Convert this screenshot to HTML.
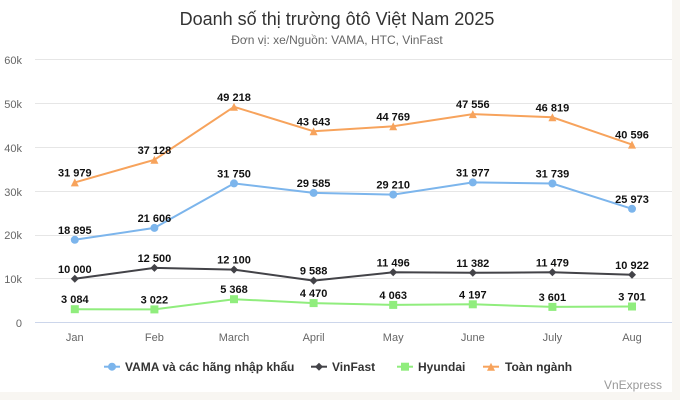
<!DOCTYPE html>
<html><head><meta charset="utf-8"><style>
html,body{margin:0;padding:0;background:#f8f6f2;}
svg{display:block;font-family:"Liberation Sans",Arial,sans-serif;}
.dl{font-size:11px;font-weight:bold;fill:#111;text-anchor:middle;}
.ax{font-size:11px;fill:#666;}
.lg{font-size:12px;font-weight:bold;fill:#333;}
</style></head><body>
<svg width="680" height="400" viewBox="0 0 680 400" xmlns="http://www.w3.org/2000/svg">
<rect x="0" y="0" width="680" height="400" fill="#f8f6f2"/>
<rect x="0" y="0" width="672" height="392" fill="#ffffff"/>
<text x="337" y="25" text-anchor="middle" font-size="18" fill="#333">Doanh số thị trường ôtô Việt Nam 2025</text>
<text x="337" y="44" text-anchor="middle" font-size="12" fill="#666">Đơn vị: xe/Nguồn: VAMA, HTC, VinFast</text>
<g stroke="#e6e6e6" stroke-width="1">
<line x1="35" x2="672" y1="59.5" y2="59.5"/>
<line x1="35" x2="672" y1="103.5" y2="103.5"/>
<line x1="35" x2="672" y1="147.5" y2="147.5"/>
<line x1="35" x2="672" y1="191.5" y2="191.5"/>
<line x1="35" x2="672" y1="235.5" y2="235.5"/>
<line x1="35" x2="672" y1="278.5" y2="278.5"/>
</g>
<line x1="35" x2="672" y1="322.5" y2="322.5" stroke="#ccd6eb" stroke-width="1"/>
<g class="ax" text-anchor="end">
<text x="22" y="64">60k</text>
<text x="22" y="108">50k</text>
<text x="22" y="152">40k</text>
<text x="22" y="196">30k</text>
<text x="22" y="239">20k</text>
<text x="22" y="283">10k</text>
<text x="22" y="327">0</text>
</g>
<g class="ax" text-anchor="middle">
<text x="74.8" y="341">Jan</text>
<text x="154.4" y="341">Feb</text>
<text x="234" y="341">March</text>
<text x="313.6" y="341">April</text>
<text x="393.2" y="341">May</text>
<text x="472.8" y="341">June</text>
<text x="552.4" y="341">July</text>
<text x="632" y="341">Aug</text>
</g>
<!-- Toàn ngành -->
<polyline fill="none" stroke="#f7a35c" stroke-width="2" points="74.8,182.4 154.4,159.8 234,106.8 313.6,131.3 393.2,126.3 472.8,114.1 552.4,117.3 632,144.6"/>
<g fill="#f7a35c">
<path d="M74.8,178.4 L78.8,186.4 L70.8,186.4Z"/>
<path d="M154.4,155.8 L158.4,163.8 L150.4,163.8Z"/>
<path d="M234,102.8 L238,110.8 L230,110.8Z"/>
<path d="M313.6,127.3 L317.6,135.3 L309.6,135.3Z"/>
<path d="M393.2,122.3 L397.2,130.3 L389.2,130.3Z"/>
<path d="M472.8,110.1 L476.8,118.1 L468.8,118.1Z"/>
<path d="M552.4,113.3 L556.4,121.3 L548.4,121.3Z"/>
<path d="M632,140.6 L636,148.6 L628,148.6Z"/>
</g>
<!-- VAMA -->
<polyline fill="none" stroke="#7cb5ec" stroke-width="2" points="74.8,239.8 154.4,227.9 234,183.4 313.6,192.9 393.2,194.6 472.8,182.4 552.4,183.5 632,208.8"/>
<g fill="#7cb5ec">
<circle cx="74.8" cy="239.8" r="4"/><circle cx="154.4" cy="227.9" r="4"/><circle cx="234" cy="183.4" r="4"/><circle cx="313.6" cy="192.9" r="4"/><circle cx="393.2" cy="194.6" r="4"/><circle cx="472.8" cy="182.4" r="4"/><circle cx="552.4" cy="183.5" r="4"/><circle cx="632" cy="208.8" r="4"/>
</g>
<!-- VinFast -->
<polyline fill="none" stroke="#434348" stroke-width="2" points="74.8,278.8 154.4,267.9 234,269.6 313.6,280.6 393.2,272.3 472.8,272.8 552.4,272.3 632,274.8"/>
<g fill="#434348">
<path d="M74.8,274.8 L78.8,278.8 L74.8,282.8 L70.8,278.8Z"/>
<path d="M154.4,263.9 L158.4,267.9 L154.4,271.9 L150.4,267.9Z"/>
<path d="M234,265.6 L238,269.6 L234,273.6 L230,269.6Z"/>
<path d="M313.6,276.6 L317.6,280.6 L313.6,284.6 L309.6,280.6Z"/>
<path d="M393.2,268.3 L397.2,272.3 L393.2,276.3 L389.2,272.3Z"/>
<path d="M472.8,268.8 L476.8,272.8 L472.8,276.8 L468.8,272.8Z"/>
<path d="M552.4,268.3 L556.4,272.3 L552.4,276.3 L548.4,272.3Z"/>
<path d="M632,270.8 L636,274.8 L632,278.8 L628,274.8Z"/>
</g>
<!-- Hyundai -->
<polyline fill="none" stroke="#90ed7d" stroke-width="2" points="74.8,309.2 154.4,309.4 234,299.2 313.6,303.1 393.2,304.9 472.8,304.3 552.4,306.9 632,306.5"/>
<g fill="#90ed7d">
<rect x="70.8" y="305.2" width="8" height="8"/><rect x="150.4" y="305.4" width="8" height="8"/><rect x="230" y="295.2" width="8" height="8"/><rect x="309.6" y="299.1" width="8" height="8"/><rect x="389.2" y="300.9" width="8" height="8"/><rect x="468.8" y="300.3" width="8" height="8"/><rect x="548.4" y="302.9" width="8" height="8"/><rect x="628" y="302.5" width="8" height="8"/>
</g>
<!-- data labels -->
<g class="dl">
<text x="74.8" y="176.4">31 979</text>
<text x="154.4" y="153.8">37 128</text>
<text x="234" y="100.8">49 218</text>
<text x="313.6" y="125.3">43 643</text>
<text x="393.2" y="120.3">44 769</text>
<text x="472.8" y="108.1">47 556</text>
<text x="552.4" y="111.3">46 819</text>
<text x="632" y="138.6">40 596</text>

<text x="74.8" y="233.8">18 895</text>
<text x="154.4" y="221.9">21 606</text>
<text x="234" y="177.4">31 750</text>
<text x="313.6" y="186.9">29 585</text>
<text x="393.2" y="188.6">29 210</text>
<text x="472.8" y="176.4">31 977</text>
<text x="552.4" y="177.5">31 739</text>
<text x="632" y="202.8">25 973</text>

<text x="74.8" y="272.8">10 000</text>
<text x="154.4" y="261.9">12 500</text>
<text x="234" y="263.6">12 100</text>
<text x="313.6" y="274.6">9 588</text>
<text x="393.2" y="266.3">11 496</text>
<text x="472.8" y="266.8">11 382</text>
<text x="552.4" y="266.3">11 479</text>
<text x="632" y="268.8">10 922</text>

<text x="74.8" y="303.2">3 084</text>
<text x="154.4" y="303.4">3 022</text>
<text x="234" y="293.2">5 368</text>
<text x="313.6" y="297.1">4 470</text>
<text x="393.2" y="298.9">4 063</text>
<text x="472.8" y="298.3">4 197</text>
<text x="552.4" y="300.9">3 601</text>
<text x="632" y="300.5">3 701</text>
</g>
<!-- legend -->
<line x1="104" x2="120" y1="366.7" y2="366.7" stroke="#7cb5ec" stroke-width="2"/>
<circle cx="112" cy="366.7" r="4" fill="#7cb5ec"/>
<text class="lg" x="125" y="371">VAMA và các hãng nhập khẩu</text>
<line x1="311" x2="327" y1="366.7" y2="366.7" stroke="#434348" stroke-width="2"/>
<path d="M319,362.7 L323,366.7 L319,370.7 L315,366.7Z" fill="#434348"/>
<text class="lg" x="332" y="371">VinFast</text>
<line x1="397" x2="413" y1="366.7" y2="366.7" stroke="#90ed7d" stroke-width="2"/>
<rect x="401" y="362.7" width="8" height="8" fill="#90ed7d"/>
<text class="lg" x="418" y="371">Hyundai</text>
<line x1="483" x2="499" y1="366.7" y2="366.7" stroke="#f7a35c" stroke-width="2"/>
<path d="M491,362.7 L495,370.7 L487,370.7Z" fill="#f7a35c"/>
<text class="lg" x="505" y="371">Toàn ngành</text>
<text x="662" y="389" text-anchor="end" font-size="12" fill="#999">VnExpress</text>
</svg>
</body></html>
